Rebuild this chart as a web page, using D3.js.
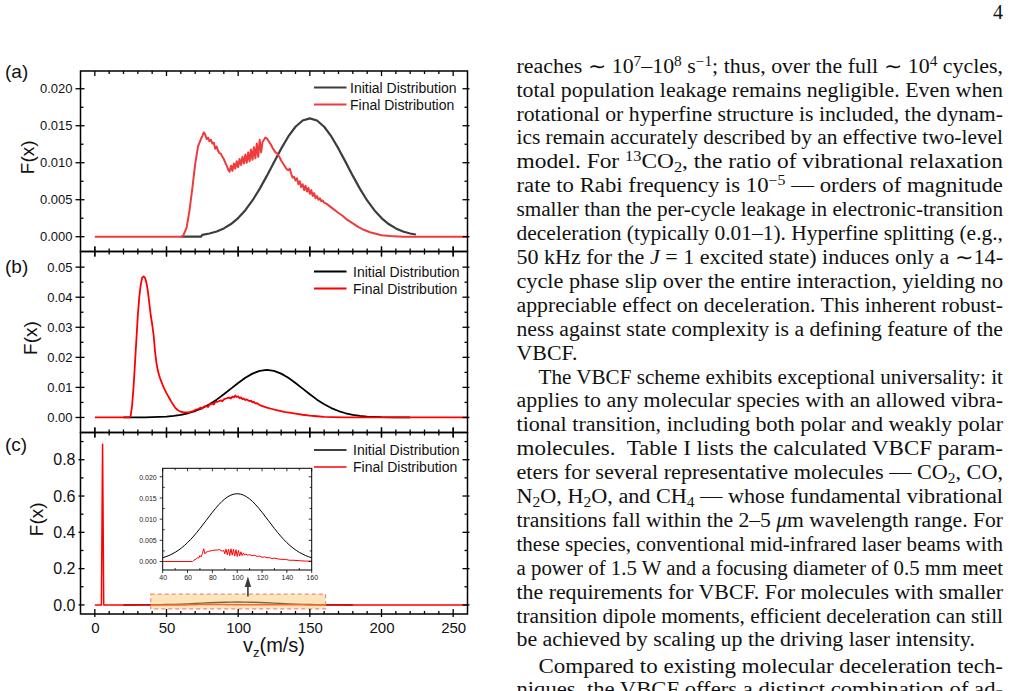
<!DOCTYPE html>
<html>
<head>
<meta charset="utf-8">
<script src="https://cdn.jsdelivr.net/npm/d3@7"></script>
<style>
  html, body { margin: 0; padding: 0; background: #fff; }
  svg { display: block; }
  text { white-space: pre; }
</style>
</head>
<body>
<svg id="fig" width="1013" height="691"></svg>
<script>
// ---- data: [v (m/s), F(x)] ----
const aInitial = [[60,0],[74,0],[75,0.00025],[80,0.00043],[85,0.0007],[90,0.00112],[95,0.00171],[100,0.00252],[105,0.00358],[110,0.0049],[115,0.00647],[120,0.00822],[125,0.01008],[130,0.0119],[135,0.01355],[140,0.01486],[145,0.01571],[150,0.016],[155,0.01571],[160,0.01486],[165,0.01355],[170,0.0119],[175,0.01008],[180,0.00822],[185,0.00647],[190,0.0049],[195,0.00358],[200,0.00252],[205,0.00171],[210,0.00112],[215,0.0007],[220,0.00043],[224,0.0003]];
const aFinal = [[0,0],[61,0],[62,0.0003],[64,0.0012],[66,0.0035],[68,0.0065],[70,0.0098],[72,0.0122],[74,0.0132],[75,0.0136],[76,0.0141],[77,0.0138],[78,0.0132],[79,0.0134],[80,0.0129],[81,0.0131],[82,0.0126],[83,0.0127],[84,0.0119],[85,0.0122],[86,0.0116],[87,0.0113],[88,0.0112],[89,0.0108],[90,0.0105],[91,0.0100],[92,0.0096],[93,0.0091],[94,0.0088],[95,0.0096],[96,0.0089],[97,0.0099],[98,0.0092],[99,0.0102],[100,0.0094],[101,0.0105],[102,0.0097],[103,0.0108],[104,0.0099],[105,0.0111],[106,0.0100],[107,0.0114],[108,0.0102],[109,0.0118],[110,0.0104],[111,0.0121],[112,0.0106],[113,0.0126],[114,0.0108],[115,0.0131],[116,0.0114],[117,0.0128],[118,0.0131],[119,0.0134],[120,0.0133],[121,0.0130],[122,0.0127],[123,0.0124],[124,0.0120],[125,0.0117],[126,0.0114],[127,0.0113],[128,0.0110],[129,0.0107],[130,0.0103],[131,0.0100],[132,0.0097],[133,0.0094],[134,0.0091],[135,0.0090],[136,0.0092],[137,0.0085],[138,0.0080],[139,0.0081],[140,0.0076],[141,0.0079],[142,0.0071],[143,0.0075],[144,0.0067],[145,0.0071],[146,0.0063],[147,0.0069],[148,0.0061],[149,0.0066],[150,0.0058],[151,0.0063],[152,0.0055],[153,0.0059],[154,0.0052],[155,0.0055],[156,0.0050],[157,0.0052],[158,0.0048],[159,0.0049],[160,0.0046],[162,0.0044],[164,0.0041],[166,0.0038],[168,0.0035],[170,0.0032],[173,0.0028],[176,0.0023],[180,0.0018],[184,0.0013],[188,0.0009],[192,0.0006],[196,0.0004],[200,0.0002],[206,0.0001],[215,0],[260,0]];

const bInitial = [[20,0],[30,0.00002],[35,0.00005],[40,0.00009],[45,0.00018],[50,0.00031],[55,0.00054],[60,0.00089],[65,0.0014],[70,0.00214],[75,0.00313],[80,0.00439],[85,0.00593],[90,0.0077],[95,0.00959],[100,0.01147],[105,0.0132],[110,0.01459],[115,0.01549],[120,0.0158],[125,0.01549],[130,0.01459],[135,0.0132],[140,0.01147],[145,0.00959],[150,0.0077],[155,0.00593],[160,0.00439],[165,0.00313],[170,0.00214],[175,0.0014],[180,0.00089],[185,0.00054],[190,0.00031],[195,0.00018],[200,0.00009],[210,0.00002],[220,0]];
const bFinal = [[0,0],[24,0],[25,0.0005],[26,0.004],[27,0.010],[28,0.018],[29,0.026],[30,0.034],[31,0.040],[32,0.044],[33,0.0465],[34,0.0469],[35,0.0465],[36,0.0448],[37,0.042],[38,0.038],[39,0.034],[40,0.031],[41,0.0275],[42,0.022],[43,0.0181],[44,0.0155],[45,0.0138],[46,0.0124],[47,0.0112],[48,0.0100],[50,0.0081],[52,0.0064],[54,0.0047],[56,0.0033],[58,0.0024],[60,0.0019],[62,0.0017],[64,0.0017],[66,0.0018],[68,0.0020],[70,0.0025],[72,0.0028],[74,0.0033],[75,0.0030],[76,0.0036],[78,0.0038],[79,0.0035],[80,0.0043],[82,0.0046],[83,0.0043],[84,0.0051],[86,0.0053],[88,0.0057],[89,0.0054],[90,0.0060],[92,0.0064],[94,0.0066],[95,0.0063],[96,0.0070],[97,0.0067],[98,0.0073],[99,0.0068],[100,0.0070],[101,0.0064],[102,0.0067],[103,0.0061],[104,0.0063],[105,0.0058],[106,0.0060],[108,0.0054],[109,0.0056],[110,0.0050],[111,0.0052],[112,0.0047],[113,0.0048],[115,0.0041],[117,0.0038],[120,0.0033],[123,0.0029],[126,0.0025],[129,0.0022],[133,0.0018],[137,0.0015],[141,0.0012],[145,0.0009],[150,0.0006],[155,0.0004],[160,0.0002],[166,0.0001],[175,0],[260,0]];

const cInitial = [[20,0],[30,0.00032],[35,0.00054],[40,0.0009],[45,0.00142],[50,0.00217],[55,0.00317],[60,0.00445],[65,0.006],[70,0.00779],[75,0.0097],[80,0.01162],[85,0.01337],[90,0.01477],[95,0.01568],[100,0.016],[105,0.01568],[110,0.01477],[115,0.01337],[120,0.01162],[125,0.0097],[130,0.00779],[135,0.006],[140,0.00445],[145,0.00317],[150,0.00217],[155,0.00142],[160,0.0009],[165,0.00054],[170,0.00032],[180,0]];
const cFinal = [[0,0],[4.6,0],[5.4,0.885],[6.2,0],[40,0],[64,0],[65,0.0003],[67,0.0006],[68,0.0009],[69,0.0008],[70,0.0014],[71,0.0011],[72,0.0019],[73,0.0030],[74,0.0018],[75,0.0022],[77,0.0024],[80,0.0026],[83,0.0027],[86,0.0028],[88,0.0024],[89,0.0027],[90,0.0018],[91,0.0029],[92,0.0016],[93,0.0029],[94,0.0014],[95,0.0030],[96,0.0015],[97,0.0029],[98,0.0013],[99,0.0028],[100,0.0012],[101,0.0026],[102,0.0013],[103,0.0023],[104,0.0014],[105,0.0020],[106,0.0015],[107,0.0018],[108,0.0015],[110,0.0016],[112,0.0014],[114,0.0015],[116,0.0012],[118,0.0013],[120,0.0010],[122,0.0011],[124,0.0009],[126,0.0009],[128,0.0007],[130,0.0008],[133,0.0006],[136,0.0005],[139,0.0005],[142,0.0003],[145,0.0003],[150,0.0002],[155,0.0001],[160,0.0001],[170,0],[260,0]];

const seriesNames = ['Initial Distribution', 'Final Distribution'];
const xMajor = [0, 50, 100, 150, 200, 250];
const aTicks = [0, 0.005, 0.010, 0.015, 0.020];
const bTicks = [0, 0.01, 0.02, 0.03, 0.04, 0.05];
const cTicks = [0, 0.2, 0.4, 0.6, 0.8];
const insetXTicks = [40, 60, 80, 100, 120, 140, 160];
const insetYTicks = [0, 0.005, 0.010, 0.015, 0.020];
const zoomRange = [39, 161];  // highlighted v range in (c)

// ---- page text (right column) ----
const paragraphs = [
  ["reaches ∼ 10^{7}–10^{8} s^{−1}; thus, over the full ∼ 10^{4} cycles,",
   "total population leakage remains negligible. Even when",
   "rotational or hyperfine structure is included, the dynam-",
   "ics remain accurately described by an effective two-level",
   "model. For ^{13}CO_{2}, the ratio of vibrational relaxation",
   "rate to Rabi frequency is 10^{−5} — orders of magnitude",
   "smaller than the per-cycle leakage in electronic-transition",
   "deceleration (typically 0.01–1). Hyperfine splitting (e.g.,",
   "50 kHz for the *J* = 1 excited state) induces only a ∼14-",
   "cycle phase slip over the entire interaction, yielding no",
   "appreciable effect on deceleration. This inherent robust-",
   "ness against state complexity is a defining feature of the",
   "VBCF."],
  ["The VBCF scheme exhibits exceptional universality: it",
   "applies to any molecular species with an allowed vibra-",
   "tional transition, including both polar and weakly polar",
   "molecules.  Table I lists the calculated VBCF param-",
   "eters for several representative molecules — CO_{2}, CO,",
   "N_{2}O, H_{2}O, and CH_{4} — whose fundamental vibrational",
   "transitions fall within the 2–5 *μ*m wavelength range. For",
   "these species, conventional mid-infrared laser beams with",
   "a power of 1.5 W and a focusing diameter of 0.5 mm meet",
   "the requirements for VBCF. For molecules with smaller",
   "transition dipole moments, efficient deceleration can still",
   "be achieved by scaling up the driving laser intensity."],
  ["Compared to existing molecular deceleration tech-",
   "niques, the VBCF offers a distinct combination of ad-"]
];

const svg = d3.select('#fig');
const sans = '"Liberation Sans", Arial, Helvetica, sans-serif';

const x = d3.scaleLinear().domain([-10, 260]).range([80.5, 467.5]);
const xMinor = d3.range(10, 260, 10).filter(v => v % 50 !== 0);

const panels = [
  { tag: '(a)', top: 71, bottom: 251.5, domain: [-0.002, 0.0224], major: aTicks,
    minor: [0.0025, 0.0075, 0.0125, 0.0175], fmt: '.3f', tickFont: 13, pad: 8, out: 5,
    lines: [{ data: aInitial, color: '#3d3d3d', w: 2.2 }, { data: aFinal, color: '#ee3b3b', w: 2 }],
    legY: 87.5, legTx: 350, tagY: 78, fxX: 27 },
  { tag: '(b)', top: 251.5, bottom: 432.5, domain: [-0.005, 0.0552], major: bTicks,
    minor: [0.005, 0.015, 0.025, 0.035, 0.045], fmt: '.2f', tickFont: 13, pad: 8, out: 5,
    lines: [{ data: bInitial, color: '#000', w: 1.8 }, { data: bFinal, color: '#ff0000', w: 1.8 }],
    legY: 271.5, legTx: 353, tagY: 273, fxX: 30 },
  { tag: '(c)', top: 432.5, bottom: 614, domain: [-0.05, 0.95], major: cTicks,
    minor: [0.1, 0.3, 0.5, 0.7, 0.9], fmt: '.1f', tickFont: 16, pad: 5, out: 2,
    lines: [{ data: cInitial, color: '#000', w: 1.4 }, { data: cFinal, color: '#ff0000', w: 1.5 }],
    legY: 450, legTx: 353, tagY: 451, fxX: 36 }
];

function tickMarks(g, side, scale, values, inLen, outLen, pos, sw) {
  const horiz = side === 'top' || side === 'bottom';
  const dir = (side === 'bottom' || side === 'right') ? -1 : 1;
  g.append('g').selectAll('line').data(values).join('line')
    .attr(horiz ? 'x1' : 'y1', d => scale(d))
    .attr(horiz ? 'x2' : 'y2', d => scale(d))
    .attr(horiz ? 'y1' : 'x1', pos - dir * outLen)
    .attr(horiz ? 'y2' : 'x2', pos + dir * inLen)
    .attr('stroke', '#000').attr('stroke-width', sw || 1.3);
}

panels.forEach((p, i) => {
  const y = d3.scaleLinear().domain(p.domain).range([p.bottom, p.top]);
  const g = svg.append('g');
  const [x0, x1] = x.range();

  g.append('clipPath').attr('id', 'clip' + i)
    .append('rect').attr('x', x0).attr('y', p.top).attr('width', x1 - x0).attr('height', p.bottom - p.top);

  const line = d3.line().x(d => x(d[0])).y(d => y(d[1]));
  const plot = g.append('g').attr('clip-path', `url(#clip${i})`);
  p.lines.forEach(s => {
    plot.append('path').datum(s.data)
      .attr('d', line).attr('fill', 'none')
      .attr('stroke', s.color).attr('stroke-width', s.w)
      .attr('stroke-linejoin', 'round');
  });

  if (i === 2) {
    // highlighted region and arrow up to the inset
    plot.append('rect')
      .attr('x', x(zoomRange[0])).attr('width', x(zoomRange[1]) - x(zoomRange[0]))
      .attr('y', y(0.059)).attr('height', y(-0.022) - y(0.059))
      .attr('fill', '#f5cd76').attr('fill-opacity', 0.5)
      .attr('stroke', '#f08a8a').attr('stroke-width', 1.2).attr('stroke-dasharray', '4,3');
    const ax = x(106.8);
    g.append('line').attr('x1', ax).attr('x2', ax).attr('y1', y(0.047)).attr('y2', 586)
      .attr('stroke', '#3a3a3a').attr('stroke-width', 1.6);
    g.append('path').attr('d', `M${ax - 3.2},587 L${ax + 3.2},587 L${ax},576.5 Z`).attr('fill', '#3a3a3a');
  }

  // frame
  g.append('rect').attr('x', x0).attr('y', p.top).attr('width', x1 - x0).attr('height', p.bottom - p.top)
    .attr('fill', 'none').attr('stroke', '#000').attr('stroke-width', 1.5);

  // ticks on all four sides
  tickMarks(g, 'bottom', x, xMajor, 5, i === 2 ? 3 : 5, p.bottom);
  tickMarks(g, 'bottom', x, xMinor, 3, 0, p.bottom);
  tickMarks(g, 'top', x, xMajor, 5, i === 0 ? 0 : 5, p.top);
  tickMarks(g, 'top', x, xMinor, 3, 0, p.top);
  tickMarks(g, 'left', y, p.major, 4, p.out, x0);
  tickMarks(g, 'left', y, p.minor, 3, 0, x0);
  tickMarks(g, 'right', y, p.major, 5, 2, x1);
  tickMarks(g, 'right', y, p.minor, 3, 0, x1);

  // y tick labels
  const yAx = g.append('g').attr('transform', `translate(${x0},0)`)
    .call(d3.axisLeft(y).tickValues(p.major).tickFormat(d3.format(p.fmt)).tickSize(0).tickPadding(p.pad));
  yAx.select('.domain').remove();
  yAx.selectAll('text').attr('font-family', sans).attr('font-size', p.tickFont).attr('fill', '#111');

  if (i === 2) {
    const xAx = g.append('g').attr('transform', `translate(0,${p.bottom})`)
      .call(d3.axisBottom(x).tickValues(xMajor).tickSize(0).tickPadding(8));
    xAx.select('.domain').remove();
    xAx.selectAll('text').attr('font-family', sans).attr('font-size', 15).attr('fill', '#111');
  }

  // y label
  g.append('text')
    .attr('transform', `translate(${p.fxX},${(p.top + p.bottom) / 2 - 4}) rotate(-90)`)
    .attr('text-anchor', 'middle').attr('dy', '0.35em')
    .attr('font-family', sans).attr('font-size', 19).attr('fill', '#111')
    .text('F(x)');

  // panel tag
  g.append('text').attr('x', 5).attr('y', p.tagY)
    .attr('font-family', sans).attr('font-size', 19).attr('fill', '#111').text(p.tag);

  // legend
  p.lines.forEach((s, k) => {
    const ly = p.legY + k * 17;
    g.append('line').attr('x1', 314).attr('x2', 346.5).attr('y1', ly).attr('y2', ly)
      .attr('stroke', s.color).attr('stroke-width', s.w);
    g.append('text').attr('x', p.legTx).attr('y', ly + 5)
      .attr('font-family', sans).attr('font-size', 14).attr('fill', '#111')
      .text(seriesNames[k]);
  });

  if (i === 2) drawInset();
});

function drawInset() {
  const ix = d3.scaleLinear().domain([40, 160]).range([162.7, 311.7]);
  const iy = d3.scaleLinear().domain([-0.002, 0.022]).range([570, 468.3]);
  const g = svg.append('g');
  const [l, r] = ix.range();
  const [b, t] = iy.range();
  g.append('rect').attr('x', l).attr('y', t).attr('width', r - l).attr('height', b - t).attr('fill', '#fff');
  g.append('clipPath').attr('id', 'clipInset')
    .append('rect').attr('x', l).attr('y', t).attr('width', r - l).attr('height', b - t);
  const line = d3.line().x(d => ix(d[0])).y(d => iy(d[1]));
  const plot = g.append('g').attr('clip-path', 'url(#clipInset)');
  plot.append('path').datum(cInitial).attr('d', line.curve(d3.curveMonotoneX))
    .attr('fill', 'none').attr('stroke', '#000').attr('stroke-width', 1);
  plot.append('path').datum(cFinal).attr('d', line.curve(d3.curveLinear))
    .attr('fill', 'none').attr('stroke', '#ff0000').attr('stroke-width', 1);
  g.append('rect').attr('x', l).attr('y', t).attr('width', r - l).attr('height', b - t)
    .attr('fill', 'none').attr('stroke', '#000').attr('stroke-width', 1);

  const iMinorX = d3.range(50, 160, 20);
  const iMinorY = [0.0025, 0.0075, 0.0125, 0.0175];
  tickMarks(g, 'bottom', ix, insetXTicks, 0, 3, b, 0.8);
  tickMarks(g, 'bottom', ix, iMinorX, 2, 0, b, 0.8);
  tickMarks(g, 'top', ix, insetXTicks, 3, 0, t, 0.8);
  tickMarks(g, 'top', ix, iMinorX, 2, 0, t, 0.8);
  tickMarks(g, 'left', iy, insetYTicks, 0, 3, l, 0.8);
  tickMarks(g, 'left', iy, iMinorY, 2, 0, l, 0.8);
  tickMarks(g, 'right', iy, insetYTicks, 3, 0, r, 0.8);
  tickMarks(g, 'right', iy, iMinorY, 2, 0, r, 0.8);

  const ya = g.append('g').attr('transform', `translate(${l},0)`)
    .call(d3.axisLeft(iy).tickValues(insetYTicks).tickFormat(d3.format('.3f')).tickSize(0).tickPadding(6));
  ya.select('.domain').remove();
  ya.selectAll('text').attr('font-family', sans).attr('font-size', 7).attr('fill', '#222');
  const xa = g.append('g').attr('transform', `translate(0,${b})`)
    .call(d3.axisBottom(ix).tickValues(insetXTicks).tickSize(0).tickPadding(5));
  xa.select('.domain').remove();
  xa.selectAll('text').attr('font-family', sans).attr('font-size', 7).attr('fill', '#222');
}

// x-axis title
const xt = svg.append('text').attr('x', 274).attr('y', 652).attr('text-anchor', 'middle')
  .attr('font-family', sans).attr('font-size', 20).attr('fill', '#111');
xt.append('tspan').text('v');
xt.append('tspan').attr('font-size', 13).attr('dy', 5).text('z');
xt.append('tspan').attr('dy', -5).text('(m/s)');

// ---- right text column ----
const colLeft = 516.5, colRight = 1003, indent = 22;
const serif = '"Liberation Serif", "Times New Roman", serif';
const col = svg.append('g').attr('font-family', serif).attr('font-size', 20).attr('fill', '#111');
col.append('text').attr('x', colRight).attr('y', 19).attr('text-anchor', 'end').text('4');

function rich(textSel, str) {
  let shift = 0;
  str.split(/(\^\{[^}]*\}|_\{[^}]*\}|\*[^*]*\*)/g).forEach(part => {
    if (!part) return;
    const t = textSel.append('tspan');
    if (part.startsWith('^{')) {
      t.attr('dy', -7 - shift).attr('font-size', 14).text(part.slice(2, -1)); shift = -7;
    } else if (part.startsWith('_{')) {
      t.attr('dy', 4 - shift).attr('font-size', 14).text(part.slice(2, -1)); shift = 4;
    } else if (part.startsWith('*')) {
      if (shift) t.attr('dy', -shift);
      shift = 0;
      t.attr('font-style', 'italic').text(part.slice(1, -1));
    } else {
      if (shift) t.attr('dy', -shift);
      shift = 0;
      t.text(part);
    }
  });
}

const paraStart = [72.7, 383.5, 672.5];
const lineStep = 23.9;
const ragged = [];
const ratios = [];
paragraphs.forEach((para, pi) => {
  para.forEach((s, li) => {
    const xs = colLeft + (li === 0 && pi > 0 ? indent : 0);
    const t = col.append('text').attr('x', xs).attr('y', paraStart[pi] + li * lineStep);
    rich(t, s);
    const natural = t.node().getComputedTextLength();
    const last = li === para.length - 1 && pi < paragraphs.length - 1;
    if (last) {
      ragged.push({ t, natural });
    } else {
      const w = colRight - xs;
      ratios.push(w / natural);
      t.attr('textLength', w).attr('lengthAdjust', 'spacingAndGlyphs');
    }
  });
});
const stretch = Math.min(d3.median(ratios), 1.15);
ragged.forEach(r => r.t.attr('textLength', r.natural * stretch).attr('lengthAdjust', 'spacingAndGlyphs'));
</script>
</body>
</html>
